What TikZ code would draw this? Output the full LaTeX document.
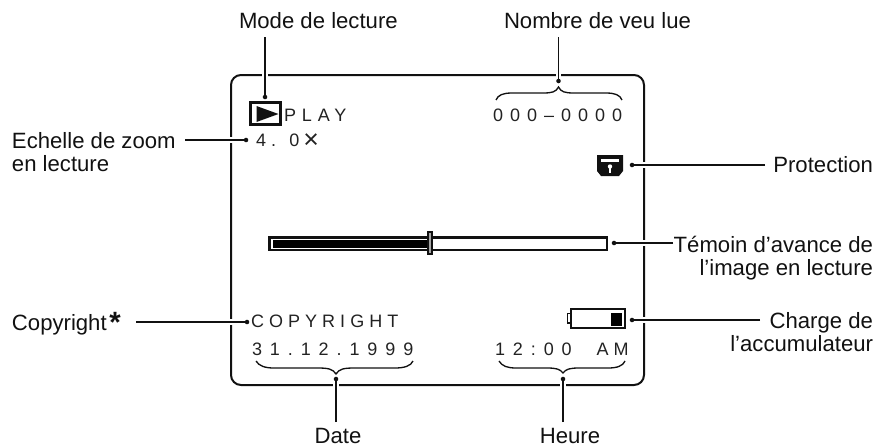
\documentclass[tikz,border=0pt]{standalone}
\usepackage{fontspec}
\setmainfont{Liberation Sans}
\newcommand{\lbl}{\fontsize{16.6}{17.25}\selectfont}
\newcommand{\scr}[1]{\fontsize{13.5}{16}\selectfont\addfontfeature{LetterSpace=#1}}
\definecolor{ink}{HTML}{111111}
\definecolor{scrink}{HTML}{222222}
\tikzset{
  lab/.style={inner sep=0pt,outer sep=0pt,text=ink,font=\lbl},
  lableft/.style={lab,align=left,anchor=north west},
  labright/.style={lab,align=right,anchor=north east},
  screentext/.style={inner sep=0pt,outer sep=0pt,anchor=base west,text=scrink},
  dotmark/.style={circle,fill=ink,inner sep=0pt,minimum size=3.4pt},
  conn/.style={ink,line width=1.2pt,preaction={draw=white,line width=4pt}},
  framer/.style={draw=ink,line width=1.5pt,rounded corners=7.5pt},
  bracer/.style={draw=ink,line width=1pt},
  solid box/.style={draw=ink,line width=1.5pt},
}
\begin{document}
\begin{tikzpicture}[x=0.75pt,y=-0.75pt]
\useasboundingbox (0,0) rectangle (877,446);
% screen frame
\draw[framer] (231,75) rectangle (644,385);

% labels
\node[lab,anchor=base west] (mode) at (239,28) {Mode de lecture};
\node[lab,anchor=base west] (nombre) at (504,28) {Nombre de veu lue};
\node[lableft] (echelle) at (12,132) {Echelle de zoom\\en lecture};
\node[lab,anchor=base west] (copy) at (12,330) {Copyright\kern2pt\raisebox{-1.5pt}{\fontsize{22}{22}\selectfont\bfseries *}};
\node[lab,anchor=base east] (prot) at (873,172) {Protection};
\node[labright] (temoin) at (873,236) {Témoin d’avance de\\l’image en lecture};
\node[labright] (charge) at (873,312) {Charge de\\l’accumulateur};
\node[lab,anchor=base] (date) at (338,443) {Date};
\node[lab,anchor=base] (heure) at (570,443) {Heure};

% screen texts
\node[screentext] (play) at (284,121) {\scr{33}PLAY};
\node[screentext] (zoomv) at (256,146) {\scr{28}4. 0\kern3pt\raisebox{-1.5pt}{\fontsize{20}{20}\selectfont ×}};
\node[screentext] (count) at (493,121) {\scr{39}000–0000};
\node[screentext] (crt) at (251,327) {\scr{28}COPYRIGHT};
\node[screentext] (dt) at (252,355) {\scr{44}31.12.1999};
\node[screentext] (tm) at (495,355) {\scr{44}12:00 \kern9pt A\kern3.7pt M};

% play icon
\draw[solid box,line width=2.2pt,fill=white] (250.5,102.5) rectangle (280.5,124.5);
\fill[ink] (256.5,106) -- (278.5,114) -- (256.5,122) -- cycle;

% protection icon
\fill[ink] (597,155) -- (623,155) -- (623,171) -- (619,176) -- (601,176) -- (597,171) -- cycle;
\fill[white] (601,159) rectangle (619,162);
\fill[white] (610,166.5) circle (2.2);
\fill[white] (609,167) rectangle (611,172.5);

% progress bar
\draw[draw=ink,line width=2pt,fill=white] (269.5,237.5) rectangle (607,250);
\fill[black] (273,239.5) rectangle (428,247.5);
\draw[draw=ink,line width=1.6pt,fill=gray!70] (428,232) rectangle (432,254);

% battery
\draw[draw=ink,line width=1.6pt,fill=white] (571,309) rectangle (625,328);
\fill[black] (611,313) rectangle (622,325.5);
\draw[draw=ink,line width=1.3pt] (570,313.5) -- (567.5,313.5) -- (567.5,323) -- (570,323);

% braces
\draw[bracer] (496,100) .. controls (498,95) and (503,93) .. (512,93) -- (543,93)
  .. controls (552,93) and (556,92) .. (558.5,87) .. controls (561,92) and (565,93) .. (574,93)
  -- (606,93) .. controls (615,93) and (620,95) .. (622,100);
\draw[bracer] (256,361) .. controls (259,366) and (265,368) .. (274,368) -- (318,368)
  .. controls (328,368) and (333,369) .. (336,374) .. controls (339,369) and (344,368) .. (354,368)
  -- (395,368) .. controls (404,368) and (411,366) .. (413,361);
\draw[bracer] (499,361) .. controls (502,366) and (507,368) .. (516,368) -- (547,368)
  .. controls (556,368) and (560,369) .. (563,373) .. controls (566,369) and (570,368) .. (579,368)
  -- (608,368) .. controls (617,368) and (623,366) .. (625,361);

% connector ends
\coordinate (modeS) at (265,37);
\coordinate (nombreS) at (558.5,37);
\coordinate (echelleS) at (185,140);
\coordinate (copyS) at (136,322);
\coordinate (protS) at (765,165);
\coordinate (temoinS) at (673,243);
\coordinate (chargeS) at (760,320);
\coordinate (dateS) at (336,422);
\coordinate (heureS) at (563,422);
\coordinate (modeE) at (265,97);
\coordinate (nombreE) at (558.5,81);
\coordinate (echelleE) at (246,140);
\coordinate (copyE) at (247,322);
\coordinate (protE) at (632,165);
\coordinate (temoinE) at (614,243);
\coordinate (chargeE) at (632,320);
\coordinate (dateE) at (336,379);
\coordinate (heureE) at (563,379);

\foreach \a in {mode,nombre,echelle,copy,prot,temoin,charge,date,heure}{
  \draw[conn] (\a S) -- (\a E);
  \node[dotmark] (\a D) at (\a E) {};
}
\end{tikzpicture}
\end{document}
